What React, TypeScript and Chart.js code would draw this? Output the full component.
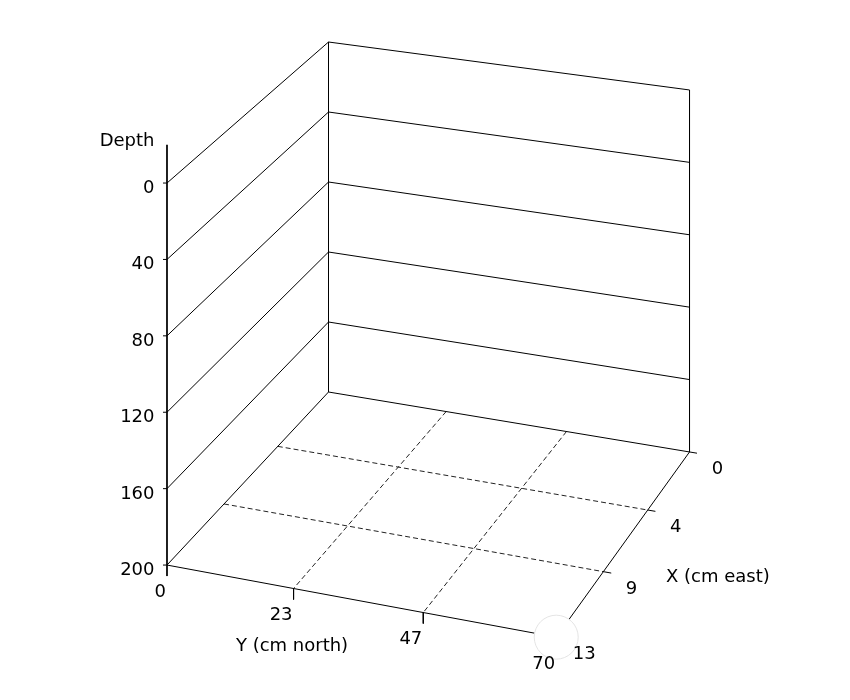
import React, { useEffect, useRef } from "react";
import { Chart, registerables } from "chart.js";

Chart.register(...registerables);

// ---- Data (axis ranges, ticks, labels) ----
const xRange = [0, 13]; // X (cm east)
const yRange = [0, 70]; // Y (cm north)
const depthRange = [0, 200]; // Depth
const xTickValues = [0, 4.333, 8.667, 13];
const xTickLabels = ["0", "4", "9", "13"];
const yTickValues = [0, 23.333, 46.667, 70];
const yTickLabels = ["0", "23", "47", "70"];
const depthTickValues = [0, 40, 80, 120, 160, 200];
const depthTickLabels = ["0", "40", "80", "120", "160", "200"];
const depthAxisTop = -20;
const axisTitles = { x: "X (cm east)", y: "Y (cm north)", depth: "Depth" };

// ---- Camera (perspective projection, vertical edges stay vertical) ----
const cam = {
  a1: -175.5, a2: 338.2, a3: 328.5,
  b1: 125.7, b2: 45.0, b3: 42, b4: 350,
  c1: -0.0838, c2: -0.0331,
};

function project(X: number, Y: number, D: number) {
  const x = (X - xRange[0]) / (xRange[1] - xRange[0]);
  const y = (Y - yRange[0]) / (yRange[1] - yRange[0]);
  const z = (D - depthRange[0]) / (depthRange[1] - depthRange[0]);
  const w = 1 + cam.c1 * x + cam.c2 * y;
  return {
    x: (cam.a1 * x + cam.a2 * y + cam.a3) / w,
    y: (cam.b1 * x + cam.b2 * y + cam.b3 + cam.b4 * z) / w,
  };
}

type P = { x: number; y: number };

export default function App() {
  const ref = useRef<HTMLCanvasElement | null>(null);

  useEffect(() => {
    if (!ref.current) return;
    const X0 = xRange[0], X1 = xRange[1];
    const Y0 = yRange[0], Y1 = yRange[1];
    const D0 = depthRange[0], D1 = depthRange[1];

    const solid: P[][] = [];
    const dashed: P[][] = [];

    // vertical edges
    solid.push([project(X1, Y0, depthAxisTop), project(X1, Y0, D1)]); // depth axis
    solid.push([project(X0, Y0, D0), project(X0, Y0, D1)]);
    solid.push([project(X0, Y1, D0), project(X0, Y1, D1)]);
    // wall lines at each depth tick
    depthTickValues.forEach((d) => {
      solid.push([project(X1, Y0, d), project(X0, Y0, d)]);
      solid.push([project(X0, Y0, d), project(X0, Y1, d)]);
    });
    // floor front edges (axes)
    solid.push([project(X1, Y0, D1), project(X1, Y1, D1)]); // Y axis
    solid.push([project(X0, Y1, D1), project(X1, Y1, D1)]); // X axis

    // depth ticks
    depthTickValues.forEach((d) => {
      const p = project(X1, Y0, d);
      solid.push([p, { x: p.x - 4, y: p.y }]);
    });
    // Y ticks
    yTickValues.forEach((yv) => {
      const p = project(X1, yv, D1);
      solid.push([p, { x: p.x, y: p.y + 11 }]);
    });
    // X ticks
    xTickValues.forEach((xv) => {
      solid.push([project(xv, Y1, D1), project(xv, Y1 * 1.02, D1)]);
    });

    // floor dashed grid
    xTickValues.slice(1, -1).forEach((xv) => {
      dashed.push([project(xv, Y0, D1), project(xv, Y1, D1)]);
    });
    yTickValues.slice(1, -1).forEach((yv) => {
      dashed.push([project(X0, yv, D1), project(X1, yv, D1)]);
    });

    const datasets: any[] = [];
    solid.forEach((seg) =>
      datasets.push({
        data: seg,
        showLine: true,
        borderColor: "#000",
        borderWidth: 1,
        pointRadius: 0,
        fill: false,
        order: 1,
      })
    );
    dashed.forEach((seg) =>
      datasets.push({
        data: seg,
        showLine: true,
        borderColor: "#222",
        borderWidth: 1,
        borderDash: [5, 3],
        pointRadius: 0,
        fill: false,
        order: 1,
      })
    );
    // corner marker (drawn on top of the lines)
    datasets.push({
      data: [project(X1, Y1, D1)],
      showLine: false,
      pointRadius: 22,
      pointBackgroundColor: "#ffffff",
      pointBorderColor: "#e4e4e4",
      pointBorderWidth: 1,
      order: 0,
    });

    const labelsPlugin = {
      id: "labels3d",
      afterDatasetsDraw(chart: any) {
        const ctx = chart.ctx;
        const sx = chart.scales.x;
        const sy = chart.scales.y;
        const px = (p: P) => ({ x: sx.getPixelForValue(p.x), y: sy.getPixelForValue(p.y) });
        ctx.save();
        ctx.fillStyle = "#000";
        ctx.font = '18px "DejaVu Sans"';
        ctx.textBaseline = "alphabetic";
        // depth labels
        ctx.textAlign = "right";
        depthTickValues.forEach((d, i) => {
          const p = px(project(X1, Y0, d));
          ctx.fillText(depthTickLabels[i], p.x - 12.5, p.y + 10);
        });
        const top = px(project(X1, Y0, depthAxisTop));
        ctx.fillText(axisTitles.depth, top.x - 12.5, top.y + 1);
        // Y labels
        yTickValues.forEach((yv, i) => {
          const p = px(project(X1, yv, D1));
          ctx.fillText(yTickLabels[i], p.x - 1, p.y + 31.5);
        });
        // X labels
        ctx.textAlign = "center";
        xTickValues.forEach((xv, i) => {
          const p = px(project(xv, Y1, D1));
          ctx.fillText(xTickLabels[i], p.x + 28, p.y + 22);
        });
        // axis titles
        const ym = px(project(X1, (Y0 + Y1) / 2, D1));
        ctx.fillText(axisTitles.y, ym.x - 66, ym.y + 51);
        const xm = px(project((X0 + X1) / 2, Y1, D1));
        ctx.fillText(axisTitles.x, xm.x + 92, xm.y + 42);
        ctx.restore();
      },
    };

    const chart = new Chart(ref.current, {
      type: "scatter",
      data: { datasets },
      options: {
        animation: false,
        responsive: true,
        maintainAspectRatio: false,
        layout: { padding: 0, autoPadding: false },
        plugins: { legend: { display: false }, tooltip: { enabled: false } },
        scales: {
          x: { type: "linear", min: 0, max: 850, display: false },
          y: { type: "linear", min: 0, max: 700, reverse: true, display: false },
        },
        elements: { line: { tension: 0 } },
      },
      plugins: [labelsPlugin],
    } as any);
    return () => chart.destroy();
  }, []);

  return (
    <div style={{ position: "fixed", left: 0, top: 0, width: 850, height: 700, background: "#fff" }}>
      <canvas ref={ref} />
    </div>
  );
}
